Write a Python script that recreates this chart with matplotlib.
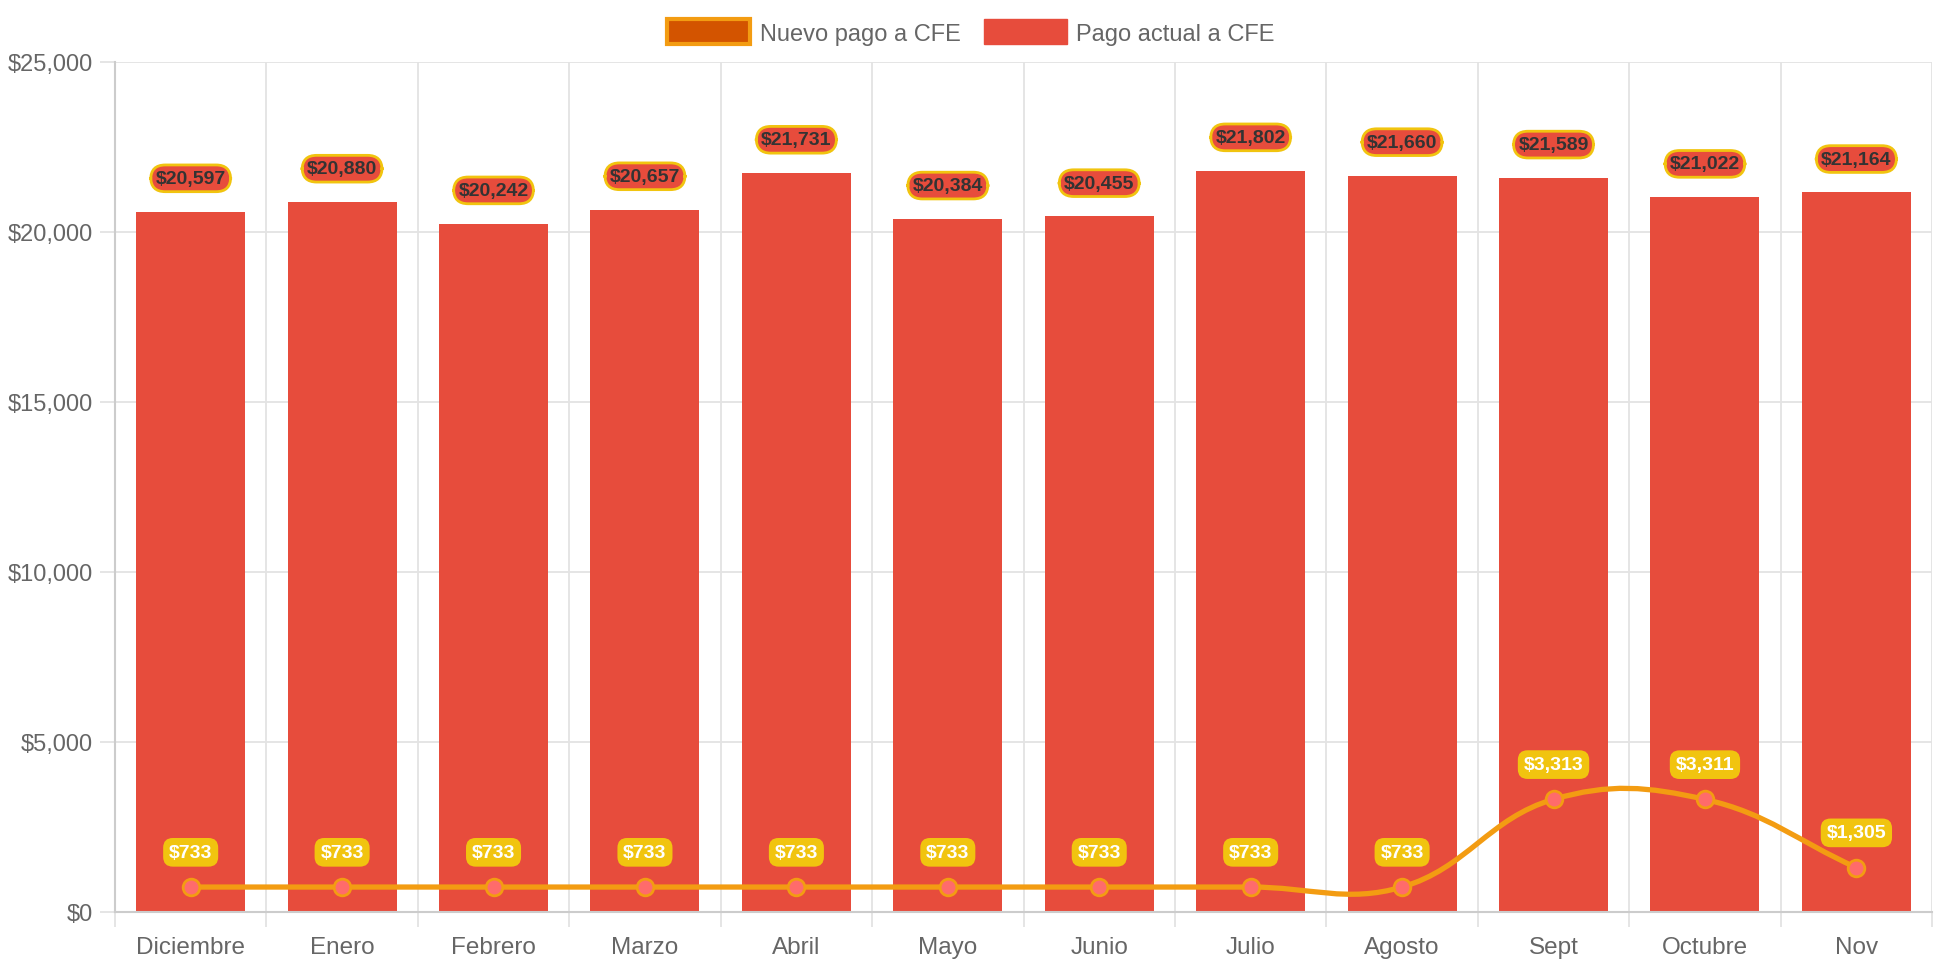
import numpy as np
import matplotlib.pyplot as plt
from matplotlib.patches import Patch, PathPatch
from matplotlib.path import Path
from matplotlib.ticker import FuncFormatter

months = ["Diciembre", "Enero", "Febrero", "Marzo", "Abril", "Mayo",
          "Junio", "Julio", "Agosto", "Sept", "Octubre", "Nov"]
pago_actual = [20597, 20880, 20242, 20657, 21731, 20384,
               20455, 21802, 21660, 21589, 21022, 21164]
nuevo_pago = [733, 733, 733, 733, 733, 733, 733, 733, 733, 3313, 3311, 1305]

plt.rcParams["font.family"] = ["Liberation Sans", "DejaVu Sans"]

RED = "#e74c3c"
ORANGE = "#f39c12"
YELLOW = "#f1c40f"
GRID = "#e3e3e3"
TEXT = "#666666"


def spline_path(ax, xs, ys, tension=0.4):
    # cubic curve like chart.js (tension 0.4), computed in pixel space
    pts = ax.transData.transform(np.column_stack([xs, ys]))
    n = len(pts)
    cps = []
    for i in range(n):
        prev = pts[max(i - 1, 0)]
        cur = pts[i]
        nxt = pts[min(i + 1, n - 1)]
        d01 = np.hypot(*(cur - prev))
        d12 = np.hypot(*(nxt - cur))
        tot = d01 + d12
        s01 = d01 / tot if tot else 0
        s12 = d12 / tot if tot else 0
        cps.append((cur - tension * s01 * (nxt - prev),
                    cur + tension * s12 * (nxt - prev)))
    verts = [pts[0]]
    codes = [Path.MOVETO]
    for i in range(n - 1):
        verts += [cps[i][1], cps[i + 1][0], pts[i + 1]]
        codes += [Path.CURVE4] * 3
    verts = ax.transData.inverted().transform(np.array(verts))
    return Path(verts, codes)


fig = plt.figure(figsize=(19.42, 9.7), dpi=100)
ax = fig.add_axes([0.0592, 0.0588, 0.9357, 0.8763])

x = np.arange(len(months))
ax.bar(x, pago_actual, width=0.72, color=RED, zorder=2)
ax.set_xlim(-0.5, len(months) - 0.5)
ax.set_ylim(0, 25000)

# line with smooth curve
path = spline_path(ax, x, nuevo_pago)
ax.add_patch(PathPatch(path, fill=False, edgecolor=ORANGE, lw=3.8,
                       capstyle="round", zorder=3))
ax.plot(x, nuevo_pago, "o", ms=12, mfc="#ff6b6b", mec=ORANGE, mew=2,
        zorder=4)

# ticks
ax.set_xticks(np.arange(-0.5, len(months), 1))
ax.set_xticks(x, months, minor=True)
ax.tick_params(axis="x", which="major", length=11, width=1.3, color=GRID,
               labelbottom=False)
ax.tick_params(axis="x", which="minor", length=0, pad=17, labelsize=17.5,
               labelcolor=TEXT)
ax.set_yticks(range(0, 25001, 5000))
ax.yaxis.set_major_formatter(FuncFormatter(lambda v, p: f"${v:,.0f}"))
ax.tick_params(axis="y", length=11, width=1.3, color=GRID, pad=5,
               labelsize=17, labelcolor=TEXT)

ax.grid(True, which="major", color=GRID, lw=1.3)
ax.set_axisbelow(True)
for s in ["top", "right"]:
    ax.spines[s].set_visible(False)
for s in ["left", "bottom"]:
    ax.spines[s].set_color("#cccccc")
    ax.spines[s].set_linewidth(1.5)

# data labels
for xi, v in zip(x, pago_actual):
    ax.annotate(f"${v:,}", (xi, v), xytext=(0, 24), textcoords="offset points",
                ha="center", va="center", fontsize=14, fontweight="bold",
                color="#333333", zorder=6,
                bbox=dict(boxstyle="round,pad=0.25,rounding_size=0.75",
                          fc=RED, ec=YELLOW, lw=2))

for xi, v in zip(x, nuevo_pago):
    ax.annotate(f"${v:,}", (xi, v), xytext=(0, 25), textcoords="offset points",
                ha="center", va="center", fontsize=14, fontweight="bold",
                color="white", zorder=6,
                bbox=dict(boxstyle="round,pad=0.3,rounding_size=0.5",
                          fc=YELLOW, ec="none"))

handles = [Patch(fc="#d35400", ec=ORANGE, lw=3, label="Nuevo pago a CFE"),
           Patch(fc=RED, ec=RED, label="Pago actual a CFE")]
fig.legend(handles=handles, loc="center", bbox_to_anchor=(0.5, 0.966),
           ncol=2, frameon=False, fontsize=17, handlelength=3.5,
           handleheight=1.25, handletextpad=0.4, columnspacing=1.0,
           labelcolor=TEXT)

fig.savefig("out.png", dpi=100)
